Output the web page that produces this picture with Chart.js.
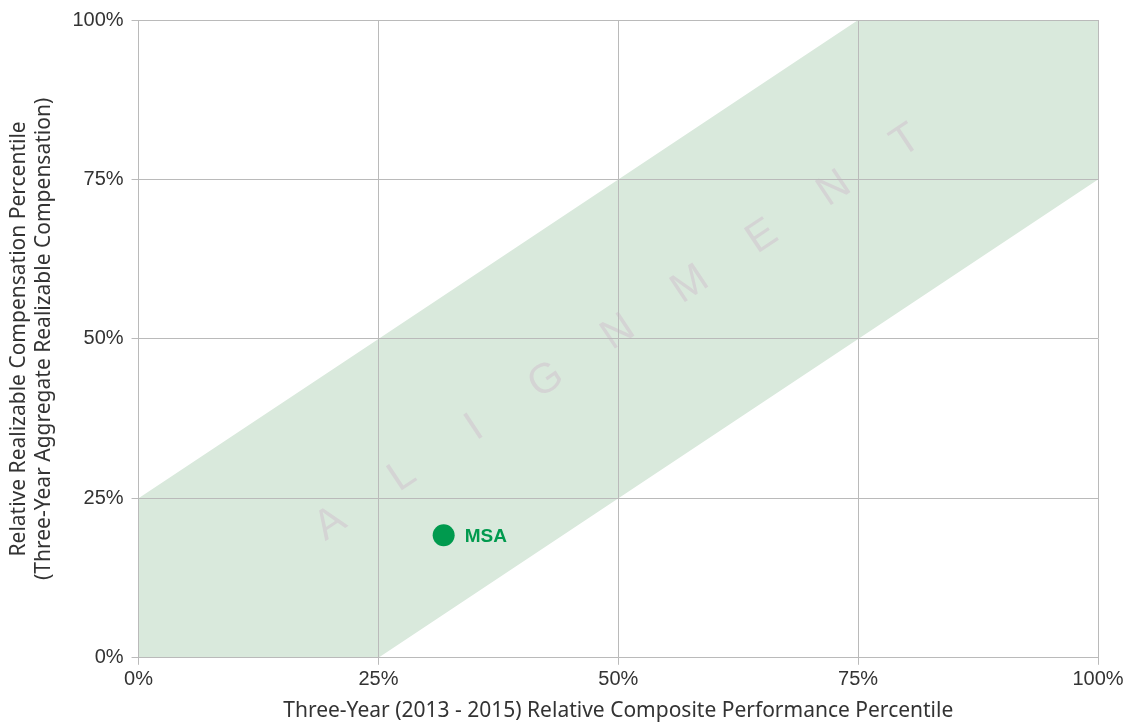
<!DOCTYPE html>
<html>
<head>
<meta charset="utf-8">
<script src="https://cdn.jsdelivr.net/npm/chart.js@4"></script>
<style>
  html, body { margin: 0; padding: 0; background: #fff; }
  #wrap { width: 1133px; height: 725px; }
</style>
</head>
<body>
<div id="wrap"><canvas id="chart"></canvas></div>
<script>
// band edges (x in percentile)
const bandX = [0, 25, 75, 100]
const bandUpper = [25, 50, 100, 100]
const bandLower = [0, 0, 50, 75]

// company point
const companyLabel = 'MSA'
const companyX = 31.8
const companyY = 19.2

// watermark letters along the band centre line
const watermarkLetters = ['A', 'L', 'I', 'G', 'N', 'M', 'E', 'N', 'T']
const watermarkX = [20, 27.5, 35, 42.5, 50, 57.5, 65, 72.5, 80]
const watermarkY = [21, 28.5, 36, 43.5, 51, 58.5, 66, 73.5, 81]

const tickValues = [0, 25, 50, 75, 100]

const green = '#009a4e'
const bandColor = '#d9e9dc'
const gridColor = '#bababa'

const watermarkPlugin = {
    id: 'watermark',
    afterDatasetsDraw: (chart) => {
        const { ctx, scales } = chart
        const x = scales.x
        const y = scales.y
        // angle of the band in pixels
        const angle = Math.atan2(
            y.getPixelForValue(100) - y.getPixelForValue(0),
            x.getPixelForValue(100) - x.getPixelForValue(0)
        )
        ctx.save()
        ctx.fillStyle = '#d4d4d4'
        ctx.font = '42px "Liberation Sans", Arial, sans-serif'
        ctx.textAlign = 'center'
        ctx.textBaseline = 'middle'
        watermarkLetters.forEach((ch, i) => {
            ctx.save()
            ctx.translate(x.getPixelForValue(watermarkX[i]), y.getPixelForValue(watermarkY[i]))
            ctx.rotate(angle)
            ctx.fillText(ch, 0, 0)
            ctx.restore()
        })
        ctx.restore()
    },
    afterDraw: (chart) => {
        const { ctx, scales } = chart
        const px = scales.x.getPixelForValue(companyX)
        const py = scales.y.getPixelForValue(companyY)
        ctx.save()
        ctx.fillStyle = green
        ctx.font = 'bold 19px "Liberation Sans", Arial, sans-serif'
        ctx.textAlign = 'left'
        ctx.textBaseline = 'middle'
        ctx.fillText(companyLabel, px + 21, py + 1)
        ctx.restore()
    }
}

const data = {
    datasets: [
        {
            label: 'upper',
            data: bandX.map((v, i) => ({ x: v, y: bandUpper[i] })),
            showLine: true,
            borderWidth: 0,
            pointRadius: 0,
            backgroundColor: bandColor,
            fill: '+1',
            order: 3,
        },
        {
            label: 'lower',
            data: bandX.map((v, i) => ({ x: v, y: bandLower[i] })),
            showLine: true,
            borderWidth: 0,
            pointRadius: 0,
            fill: false,
            order: 3,
        },
        {
            label: companyLabel,
            data: [{ x: companyX, y: companyY }],
            pointRadius: 11,
            pointBackgroundColor: green,
            pointBorderWidth: 0,
            order: 1,
        }
    ]
}

const tickFont = { family: '"Liberation Sans", Arial, sans-serif', size: 20 }
const titleFont = { family: '"Noto Sans", sans-serif', size: 21 }

const options = {
    responsive: true,
    maintainAspectRatio: false,
    animation: false,
    layout: {
        padding: { top: 12, right: 35, left: 6, bottom: 1 }
    },
    plugins: {
        legend: { display: false },
        tooltip: { enabled: false },
    },
    scales: {
        x: {
            type: 'linear',
            min: 0,
            max: 100,
            afterBuildTicks: (scale) => {
                scale.ticks = tickValues.map(v => ({ value: v }))
            },
            ticks: {
                color: '#333',
                font: tickFont,
                padding: 3,
                maxRotation: 0,
                callback: (value) => `${value}%`
            },
            grid: { color: gridColor, tickLength: 7, lineWidth: 1, z: 1 },
            border: { color: gridColor, z: 1 },
            title: {
                display: true,
                text: 'Three-Year (2013 - 2015) Relative Composite Performance Percentile',
                color: '#333',
                font: titleFont,
                padding: { top: 4, bottom: 0 }
            }
        },
        y: {
            type: 'linear',
            min: 0,
            max: 100,
            afterBuildTicks: (scale) => {
                scale.ticks = tickValues.map(v => ({ value: v }))
            },
            ticks: {
                color: '#333',
                font: tickFont,
                padding: 8,
                callback: (value) => `${value}%`
            },
            grid: { color: gridColor, tickLength: 7, lineWidth: 1, z: 1 },
            border: { color: gridColor, z: 1 },
            title: {
                display: true,
                text: ['Relative Realizable Compensation Percentile', '(Three-Year Aggregate Realizable Compensation)'],
                color: '#333',
                font: titleFont,
                padding: { top: 0, bottom: 8 }
            }
        }
    }
}

const chart = new Chart(document.getElementById('chart'), {
    type: 'scatter',
    data: data,
    options: options,
    plugins: [watermarkPlugin],
})
</script>
</body>
</html>
